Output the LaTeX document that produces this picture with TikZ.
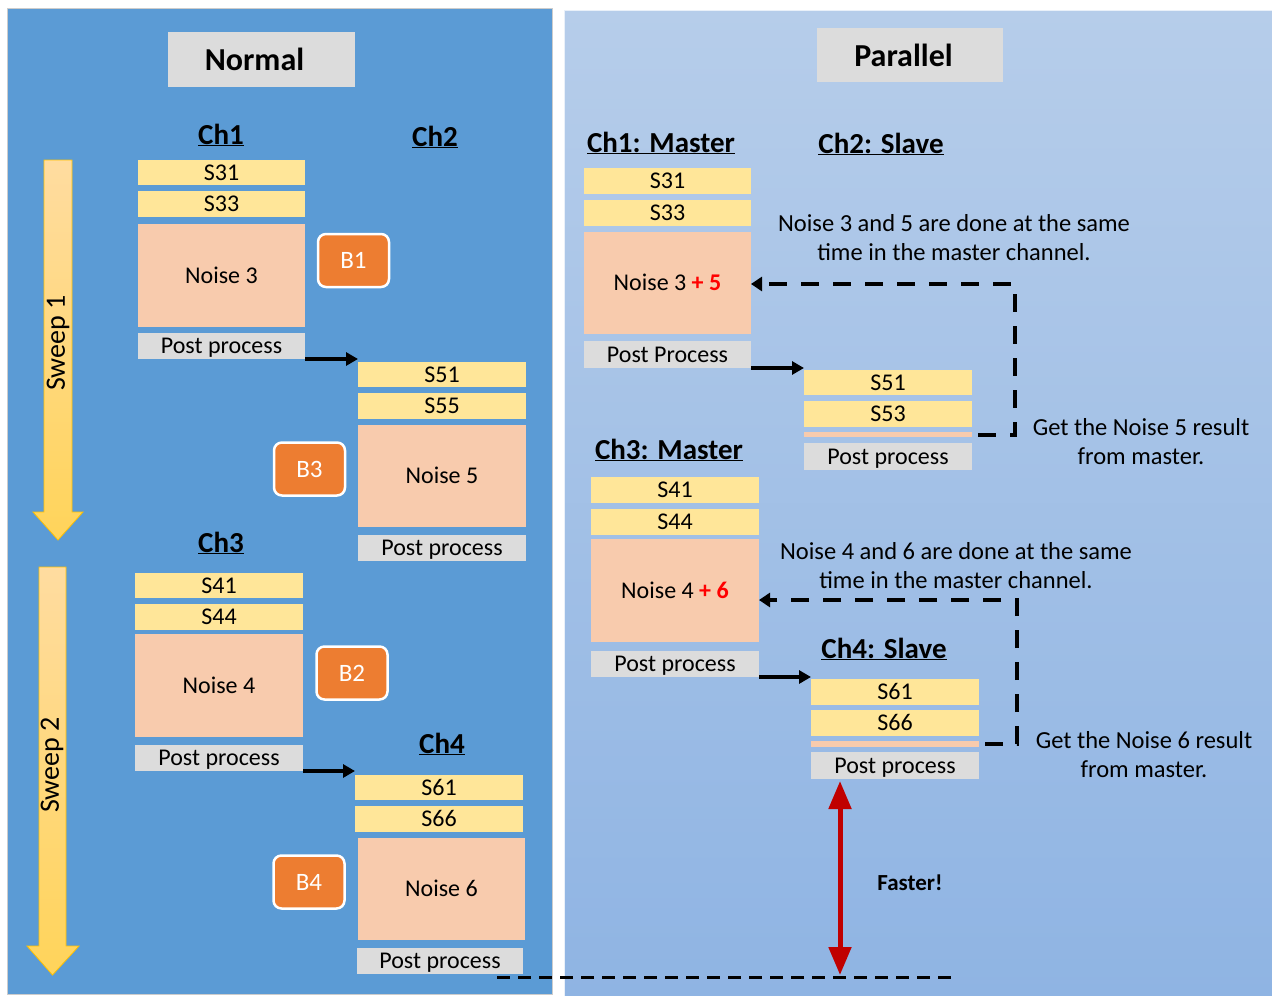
\documentclass[tikz,border=0pt]{standalone}
\usepackage{fontspec}
\setmainfont{Carlito}
\usetikzlibrary{arrows.meta}
\definecolor{lpanel}{HTML}{5B9BD5}
\definecolor{rtop}{RGB}{182,205,234}
\definecolor{rbot}{RGB}{143,180,227}
\definecolor{yel}{HTML}{FFE699}
\definecolor{peach}{HTML}{F8CBAD}
\definecolor{gry}{HTML}{DCDCDC}
\definecolor{borange}{HTML}{ED7D31}
\definecolor{darkred}{HTML}{C00000}
\definecolor{swtop}{RGB}{255,220,160}
\definecolor{swbot}{RGB}{255,212,90}
\definecolor{swedge}{HTML}{FFC000}
\newcommand\boxfont{\fontsize{24}{28}\selectfont}
\newcommand\chfont{\fontsize{29}{32}\selectfont\bfseries}
\newcommand\notefont{\fontsize{24.5}{29}\selectfont}
\begin{document}
\begin{tikzpicture}[x=1pt,y=-1pt,
  box/.style={inner sep=0pt,outer sep=0pt,font=\boxfont,text=black,text height=15.5pt,text depth=0pt},
  sbox/.style={box,fill=yel},
  nbox/.style={box,fill=peach},
  pbox/.style={box,fill=gry},
  stripbox/.style={inner sep=0pt,outer sep=0pt,fill=peach},
  bbox/.style={draw=white,line width=2.5pt,fill=borange,rounded corners=8pt,text=white,font=\fontsize{25}{28}\selectfont,minimum width=71pt,minimum height=53pt,inner sep=0pt},
  title/.style={fill=gry,inner sep=0pt,font=\fontsize{32}{36}\selectfont\bfseries},
  chlab/.style={font=\chfont,inner sep=0pt},
  note/.style={font=\notefont,align=center,inner sep=0pt},
  blackarr/.style={-{Triangle[length=12pt,width=13pt]},line width=3.5pt},
  dasharr/.style={-{Triangle[length=11pt,width=14pt]},line width=4pt,dash pattern=on 18pt off 14pt},
  bottomdash/.style={line width=3pt,dash pattern=on 13pt off 8pt},
  redarr/.style={{Triangle[length=28pt,width=22pt]}-{Triangle[length=28pt,width=22pt]},line width=5pt,draw=darkred},
  sweep/.style={top color=swtop,bottom color=swbot,draw=swedge,line width=0.8pt},
  sweeplab/.style={font=\fontsize{28}{32}\selectfont,rotate=90,inner sep=0pt}
]
\useasboundingbox (0,0) rectangle (1272,996);
\fill[white] (0,0) rectangle (1272,996);
% panels
\fill[lpanel] (7,8) rectangle (552,994);
\draw[gray!40,line width=0.8pt] (7,8) rectangle (552,994);
\shade[top color=rtop,bottom color=rbot] (564,10) rectangle (1272,996);
\draw[white!70!rtop,line width=0.8pt] (564,10) -- (564,996);
\draw[white!70!rtop,line width=0.8pt] (564,10) -- (1272,10);

% ===== Normal =====
\node[title,minimum width=187pt,minimum height=55pt] (normal) at (261.5,59.5) {\kern-14pt Normal};
\node[chlab] (lch1) at (221,135) {\underline{Ch1}};
\node[chlab] (lch2) at (435,137) {\underline{Ch2}};
\node[chlab] (lch3) at (221,543) {\underline{Ch3}};
\node[chlab] (lch4) at (442,744) {\underline{Ch4}};

% sweep arrows
\path[sweep] (44,160) -- (72,160) -- (72,512) -- (83,512) -- (58,540) -- (33,512) -- (44,512) -- cycle;
\node[sweeplab] (sw1) at (58,343) {Sweep 1};
\path[sweep] (39,567) -- (66,567) -- (66,946) -- (79,946) -- (52.5,975) -- (27,946) -- (39,946) -- cycle;
\node[sweeplab] (sw2) at (52,765) {Sweep 2};

% Ch1
\node[sbox,minimum width=167pt,minimum height=25pt] (ls31) at (221.5,172.5) {S31};
\node[sbox,minimum width=167pt,minimum height=26pt] (ls33) at (221.5,204) {S33};
\node[nbox,minimum width=167pt,minimum height=103pt] (ln3) at (221.5,275.5) {Noise 3};
\node[pbox,minimum width=167pt,minimum height=26pt] (lpp1) at (221.5,346) {Post process};
\node[bbox] (b1) at (353.5,260.5) {B1};
% Ch2
\node[sbox,minimum width=168pt,minimum height=25pt] (ls51) at (442,374.5) {S51};
\node[sbox,minimum width=168pt,minimum height=26pt] (ls55) at (442,406) {S55};
\node[nbox,minimum width=168pt,minimum height=102pt] (ln5) at (442,476) {Noise 5};
\node[pbox,minimum width=168pt,minimum height=26pt] (lpp2) at (442,548) {Post process};
\node[bbox] (b3) at (309.5,469) {B3};
% Ch3
\node[sbox,minimum width=168pt,minimum height=25pt] (ls41) at (219,585.5) {S41};
\node[sbox,minimum width=168pt,minimum height=26pt] (ls44) at (219,617) {S44};
\node[nbox,minimum width=168pt,minimum height=103pt] (ln4) at (219,685.5) {Noise 4};
\node[pbox,minimum width=168pt,minimum height=26pt] (lpp3) at (219,758) {Post process};
\node[bbox] (b2) at (352,673) {B2};
% Ch4
\node[sbox,minimum width=168pt,minimum height=25pt] (ls61) at (439,787.5) {S61};
\node[sbox,minimum width=168pt,minimum height=26pt] (ls66) at (439,819) {S66};
\node[nbox,minimum width=167pt,minimum height=102pt] (ln6) at (441.5,889) {Noise 6};
\node[pbox,minimum width=166pt,minimum height=26pt] (lpp4) at (440,961) {Post process};
\node[bbox] (b4) at (309,882) {B4};

\draw[blackarr] (lpp1.south east) -- (lpp1.south east -| ls51.west);
\draw[blackarr] (lpp3.south east) -- (lpp3.south east -| ls61.west);

% ===== Parallel =====
\node[title,minimum width=186pt,minimum height=54pt] (parallel) at (910,55) {\kern-13pt Parallel};
\node[chlab] (rch1) at (661,143) {\underline{Ch1: Master}};
\node[chlab] (rch2) at (881,144) {\underline{Ch2: Slave}};
\node[chlab] (rch3) at (669,450) {\underline{Ch3: Master}};
\node[chlab] (rch4) at (884,649) {\underline{Ch4: Slave}};

% Ch1 master
\node[sbox,minimum width=167pt,minimum height=26pt] (rs31) at (667.5,181) {S31};
\node[sbox,minimum width=167pt,minimum height=26pt] (rs33) at (667.5,213) {S33};
\node[nbox,minimum width=167pt,minimum height=102pt] (rn35) at (667.5,283) {Noise 3 \textcolor{red}{\textbf{+ 5}}};
\node[pbox,minimum width=167pt,minimum height=27pt] (rpp1) at (667.5,354.5) {Post Process};
% Ch2 slave
\node[sbox,minimum width=168pt,minimum height=25pt] (rs51) at (888,382.5) {S51};
\node[sbox,minimum width=168pt,minimum height=26pt] (rs53) at (888,414) {S53};
\node[stripbox,minimum width=168pt,minimum height=5pt] (rst1) at (888,434.5) {};
\node[pbox,minimum width=168pt,minimum height=27pt] (rpp2) at (888,456.5) {Post process};
% Ch3 master
\node[sbox,minimum width=168pt,minimum height=26pt] (rs41) at (675,490) {S41};
\node[sbox,minimum width=168pt,minimum height=26pt] (rs44) at (675,522) {S44};
\node[nbox,minimum width=168pt,minimum height=103pt] (rn46) at (675,590.5) {Noise 4 \textcolor{red}{\textbf{+ 6}}};
\node[pbox,minimum width=168pt,minimum height=26pt] (rpp3) at (675,664) {Post process};
% Ch4 slave
\node[sbox,minimum width=168pt,minimum height=26pt] (rs61) at (895,692) {S61};
\node[sbox,minimum width=168pt,minimum height=26pt] (rs66) at (895,723) {S66};
\node[stripbox,minimum width=168pt,minimum height=6pt] (rst2) at (895,744) {};
\node[pbox,minimum width=168pt,minimum height=27pt] (rpp4) at (895,765.5) {Post process};

\draw[blackarr] (rpp1.south east) -- (rpp1.south east -| rs51.west);
\draw[blackarr] (rpp3.south east) -- (rpp3.south east -| rs61.west);

% notes
\node[note] (note1) at (954,237.5) {Noise 3 and 5 are done at the same\\time in the master channel.};
\node[note] (note2) at (1141,441.5) {Get the Noise 5 result\\from master.};
\node[note] (note3) at (956,565.5) {Noise 4 and 6 are done at the same\\time in the master channel.};
\node[note] (note4) at (1144,754.5) {Get the Noise 6 result\\from master.};
\node[font=\fontsize{23}{26}\selectfont\bfseries,inner sep=0pt] (faster) at (910,883) {Faster!};

% dashed feedback arrows
\coordinate (k1) at (1015,434.5);
\coordinate (k2) at (1017,744);
\draw[dasharr] ([xshift=6pt]rst1.east) -- (k1) |- ([yshift=-1pt]rn35.east);
\draw[dasharr] ([xshift=6pt]rst2.east) -- (k2) |- ([yshift=-9.5pt]rn46.east);

% bottom dashed line and red arrow
\coordinate (dl1) at (497,977);
\coordinate (dl2) at (953,977);
\coordinate (fl) at (840,975);
\draw[bottomdash] (dl1) -- (dl2);
\draw[redarr] ([xshift=29pt,yshift=-2pt]rpp4.south west) -- (fl);
\end{tikzpicture}
\end{document}
